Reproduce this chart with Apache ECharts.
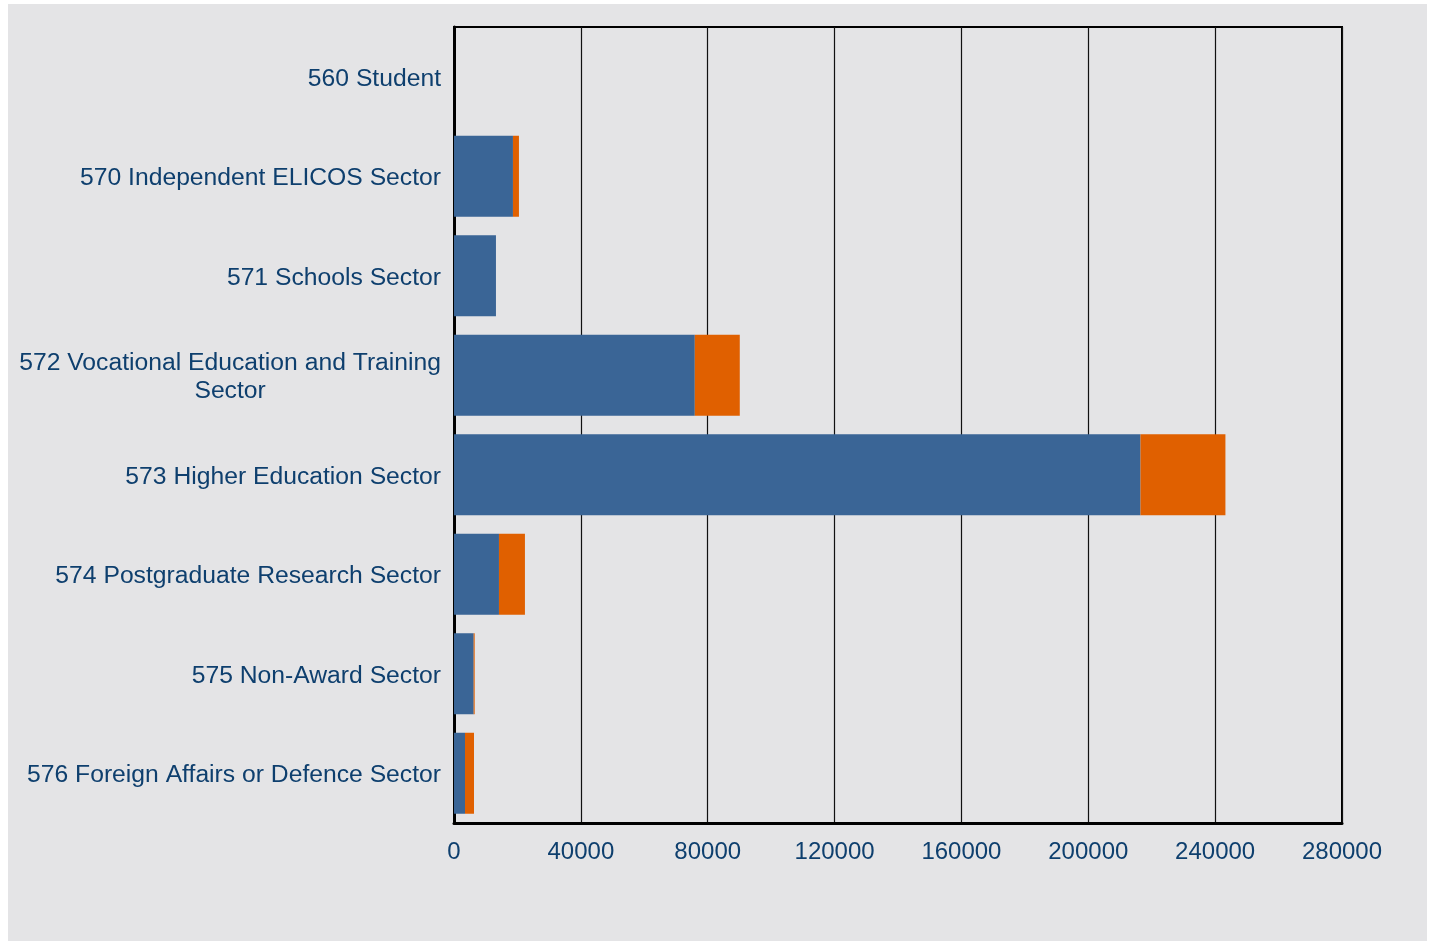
<!DOCTYPE html>
<html>
<head>
<meta charset="utf-8">
<script src="https://cdn.jsdelivr.net/npm/echarts@6/dist/echarts.min.js"></script>
<style>
html,body{margin:0;padding:0;background:#ffffff;}
#c{width:1430px;height:943px;}
</style>
</head>
<body>
<div id="c"></div>
<script>
const categories = [
  "560 Student",
  "570 Independent ELICOS Sector",
  "571 Schools Sector",
  "572 Vocational Education and Training\nSector",
  "573 Higher Education Sector",
  "574 Postgraduate Research Sector",
  "575 Non-Award Sector",
  "576 Foreign Affairs or Defence Sector"
];
const seriesA = [0, 18590, 13230, 75930, 216460, 14180, 6200, 3470];
const seriesB = [0, 1890, 0, 14180, 26780, 8190, 320, 2830];
const xTicks = [0, 40000, 80000, 120000, 160000, 200000, 240000, 280000];

const textColor = '#0e3f6e';
const fam = 'Liberation Sans, Arial';
const yFs = 24.7;
const chart = echarts.init(document.getElementById('c'), null, {renderer: 'canvas'});
chart.setOption({
  backgroundColor: 'transparent',
  animation: false,
  graphic: [{
    type: 'rect', z: -10, silent: true,
    shape: {x: 8, y: 4, width: 1419, height: 937},
    style: {fill: '#e4e4e6'}
  }],
  grid: {left: 454, top: 27, right: 88, bottom: 120, containLabel: false,
         show: true, borderColor: '#000', borderWidth: 2, backgroundColor: 'transparent'},
  xAxis: {
    type: 'value', min: xTicks[0], max: xTicks[xTicks.length - 1], interval: 40000,
    axisLine: {show: true, lineStyle: {color: '#000', width: 3}},
    axisTick: {show: false},
    splitLine: {show: true, lineStyle: {color: '#111', width: 1.2}},
    axisLabel: {color: textColor, fontSize: 24, fontFamily: fam, margin: 17,
      formatter: function (v) { return String(v); }}
  },
  yAxis: {
    type: 'category', data: categories, inverse: true,
    axisLine: {show: true, lineStyle: {color: '#000', width: 3}},
    axisTick: {show: false},
    axisLabel: {
      color: textColor, fontSize: yFs, fontFamily: fam, margin: 13,
      lineHeight: 28, align: 'right', padding: [4, 0, 0, 0],
      formatter: function (v) {
        const parts = v.split('\n');
        if (parts.length === 1) return v;
        return '{r|' + parts[0] + '}\n{c|' + parts[1] + '}';
      },
      rich: {
        r: {color: textColor, fontSize: yFs, fontFamily: fam, lineHeight: 28, align: 'right'},
        c: {color: textColor, fontSize: yFs, fontFamily: fam, lineHeight: 28, align: 'center'}
      }
    }
  },
  series: [
    {type: 'bar', stack: 's', data: seriesA, barWidth: 81, itemStyle: {color: '#3a6596'}},
    {type: 'bar', stack: 's', data: seriesB, barWidth: 81, itemStyle: {color: '#e06000'}}
  ]
});
</script>
</body>
</html>
